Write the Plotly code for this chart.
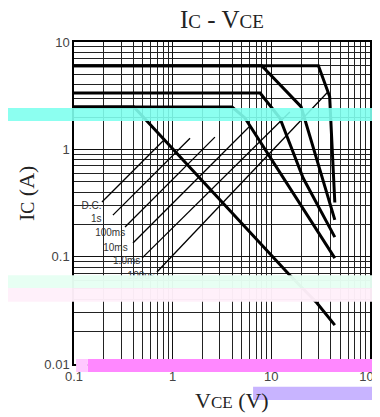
import plotly.graph_objects as go

# safe operating area curves (V in volts, I in amps)
v_100us = [0.1, 30, 39, 44]
i_100us = [6.0, 6.0, 3.1, 0.32]

v_1ms = [0.1, 8.0, 20, 44]
i_1ms = [6.0, 6.0, 2.5, 0.22]

v_10ms = [0.1, 7.7, 12.2, 21, 44]
i_10ms = [3.35, 3.35, 1.96, 0.54, 0.152]

v_100ms = [0.1, 4.0, 5.4, 44]
i_100ms = [2.48, 2.48, 1.96, 0.097]

v_dc = [0.1, 0.405, 15.4, 29, 44]
i_dc = [2.48, 2.48, 0.067, 0.037, 0.023]

curves = [(v_100us, i_100us), (v_1ms, i_1ms), (v_10ms, i_10ms),
          (v_100ms, i_100ms), (v_dc, i_dc)]

# thin leader lines from each label to the curves
labels = ["D.C.", "1s", "100ms", "10ms", "1.0ms", "100us"]
lead_v0 = [0.192, 0.248, 0.329, 0.396, 0.489, 0.693]
lead_i0 = [0.323, 0.244, 0.189, 0.134, 0.097, 0.072]
lead_v1 = [0.836, 1.50, 2.68, 6.07, 15.4, 37.4]
lead_i1 = [1.25, 1.27, 1.30, 1.65, 2.23, 3.42]
label_v = [0.19, 0.19, 0.33, 0.35, 0.47, 0.66]
label_i = [0.296, 0.224, 0.166, 0.120, 0.091, 0.065]

x_ticks = [0.1, 1, 10, 100]
x_ticktext = ["0.1", "1", "10", "100"]
y_ticks = [0.01, 0.1, 1, 10]
y_ticktext = ["0.01", "0.1", "1", "10"]

fig = go.Figure()

for v, i in curves:
    fig.add_trace(go.Scatter(x=v, y=i, mode="lines",
                             line=dict(color="black", width=3),
                             hoverinfo="skip"))

for k in range(len(labels)):
    fig.add_trace(go.Scatter(x=[lead_v0[k], lead_v1[k]], y=[lead_i0[k], lead_i1[k]],
                             mode="lines", line=dict(color="black", width=1.3),
                             hoverinfo="skip"))

fig.add_trace(go.Scatter(x=label_v, y=label_i, mode="text", text=labels,
                         textposition="middle left",
                         textfont=dict(family="Liberation Sans", size=10, color="#333"),
                         hoverinfo="skip"))

axis_common = dict(type="log", showline=True, mirror=True, linecolor="black",
                   linewidth=1.5, showgrid=True, gridcolor="#111", gridwidth=1.3,
                   zeroline=False, ticks="", automargin=False, ticklabeloverflow="allow",
                   tickfont=dict(family="Liberation Sans", size=13, color="#444"),
                   minor=dict(showgrid=True, gridcolor="#222", gridwidth=1.1, dtick="D1"))

fig.update_xaxes(range=[-1, 2], tickvals=x_ticks, ticktext=x_ticktext, **axis_common)
fig.update_yaxes(range=[-2, 1], tickvals=y_ticks, ticktext=y_ticktext, **axis_common)

serif = "Liberation Serif"
fig.add_annotation(text="I<span style='font-size:19px'>C</span> - V<span style='font-size:19px'>CE</span>",
                   xref="paper", yref="paper", x=0.5, y=1.0, yshift=23, yanchor="middle",
                   showarrow=False, font=dict(family=serif, size=25, color="#222"))
fig.add_annotation(text="I<span style='font-size:18px'>C</span> (A)", textangle=-90,
                   xref="paper", yref="paper", x=-0.16, y=0.53, xanchor="center", yanchor="middle",
                   showarrow=False, font=dict(family=serif, size=22, color="#222"))
fig.add_annotation(text="V<span style='font-size:17px'>CE</span> (V)",
                   xref="paper", yref="paper", x=0.535, y=-0.112, xanchor="center", yanchor="middle",
                   showarrow=False, font=dict(family=serif, size=22, color="#222"))

# scan artifacts over the picture
bands = [
    (-0.25, 1.04, 0.755, 0.795, "#80FFEE", 0.9),
    (-0.25, 1.04, 0.236, 0.276, "#E6FFF3", 0.97),
    (-0.25, 1.04, 0.193, 0.236, "#FFEFFA", 0.97),
    (0.047, 1.04, -0.025, 0.0155, "#FF88FF", 1.0),
    (0.007, 0.047, -0.025, 0.0155, "#FFC8FF", 1.0),
    (0.605, 1.04, -0.112, -0.071, "#C8B4FF", 1.0),
]
for x0, x1, y0, y1, col, op in bands:
    fig.add_shape(type="rect", xref="paper", yref="paper", x0=x0, x1=x1, y0=y0, y1=y1,
                  fillcolor=col, opacity=op, line_width=0, layer="above")

# page body has an 8px margin, so the figure is sized to fit the window
fig.update_layout(template="none", width=372, height=409,
                  margin=dict(l=66, r=10, t=34, b=53),
                  paper_bgcolor="white", plot_bgcolor="white",
                  showlegend=False)

fig.write_html("out.html")
